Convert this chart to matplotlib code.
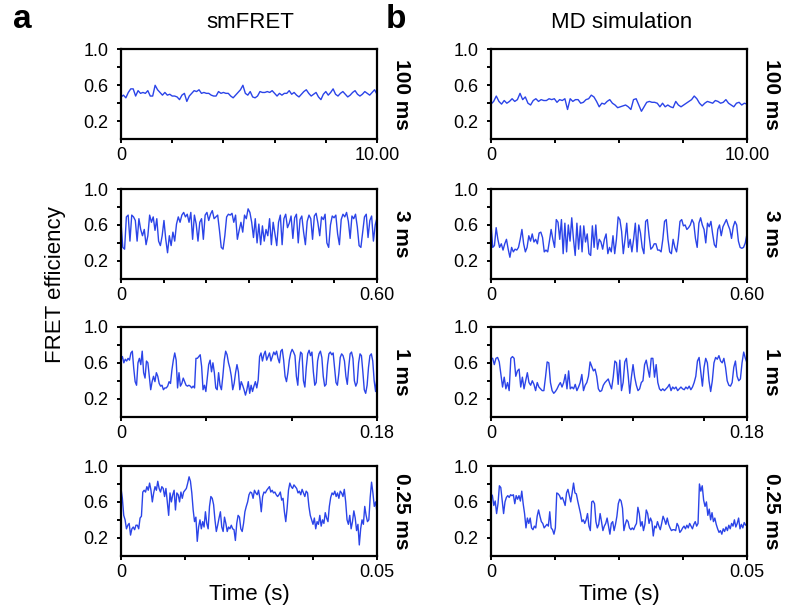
import numpy as np
import matplotlib.pyplot as plt

plt.rcParams['font.family'] = ['Liberation Sans', 'DejaVu Sans']

# 各行的时间分辨率标签和横轴终点
row_labels = ["100 ms", "3 ms", "1 ms", "0.25 ms"]
x_max = [10.0, 0.60, 0.18, 0.05]
x_end_labels = ["10.00", "0.60", "0.18", "0.05"]
x_step_left = [2.0, 0.1, 0.06, 0.0125]
x_step_right = [2.5, 0.15, 0.05, 0.0125]

# smFRET traces (column a)
fret_100ms = [0.47, 0.49, 0.46, 0.52, 0.56, 0.56, 0.48, 0.54, 0.51, 0.52, 0.51, 0.54, 0.48, 0.48, 0.60,
              0.55, 0.52, 0.49, 0.52, 0.49, 0.50, 0.48, 0.48, 0.47, 0.44, 0.49, 0.51, 0.42, 0.48, 0.51,
              0.54, 0.53, 0.55, 0.51, 0.52, 0.51, 0.51, 0.49, 0.48, 0.48, 0.53, 0.51, 0.52, 0.51, 0.51,
              0.48, 0.46, 0.49, 0.52, 0.55, 0.60, 0.51, 0.49, 0.53, 0.47, 0.46, 0.48, 0.53, 0.52, 0.52,
              0.53, 0.52, 0.54, 0.51, 0.48, 0.51, 0.49, 0.51, 0.51, 0.54, 0.50, 0.52, 0.49, 0.47, 0.50,
              0.53, 0.55, 0.51, 0.48, 0.50, 0.52, 0.47, 0.44, 0.50, 0.53, 0.49, 0.52, 0.56, 0.50, 0.48,
              0.51, 0.53, 0.50, 0.47, 0.49, 0.52, 0.54, 0.50, 0.48, 0.50, 0.53, 0.51, 0.49, 0.52, 0.55,
              0.50]
fret_3ms = [0.63, 0.35, 0.33, 0.69, 0.71, 0.42, 0.71, 0.69, 0.65, 0.42, 0.67, 0.55, 0.48, 0.55, 0.38,
            0.48, 0.71, 0.63, 0.69, 0.54, 0.67, 0.42, 0.37, 0.48, 0.65, 0.44, 0.29, 0.48, 0.37, 0.52,
            0.42, 0.61, 0.69, 0.63, 0.71, 0.74, 0.69, 0.72, 0.63, 0.74, 0.44, 0.71, 0.61, 0.42, 0.63,
            0.67, 0.44, 0.71, 0.74, 0.65, 0.72, 0.76, 0.67, 0.69, 0.71, 0.54, 0.35, 0.33, 0.48, 0.69,
            0.72, 0.71, 0.73, 0.63, 0.71, 0.44, 0.54, 0.63, 0.52, 0.71, 0.67, 0.78, 0.74, 0.63, 0.46,
            0.67, 0.40, 0.61, 0.38, 0.59, 0.42, 0.55, 0.48, 0.67, 0.38, 0.63, 0.50, 0.37, 0.63, 0.71,
            0.38, 0.67, 0.72, 0.57, 0.62, 0.70, 0.45, 0.68, 0.72, 0.40, 0.66, 0.70, 0.52, 0.38, 0.64,
            0.71, 0.67, 0.44, 0.70, 0.73, 0.62, 0.48, 0.69, 0.66, 0.72, 0.40, 0.35, 0.60, 0.70, 0.68,
            0.71, 0.50, 0.38, 0.66, 0.72, 0.69, 0.74, 0.64, 0.45, 0.70, 0.67, 0.72, 0.58, 0.37, 0.35,
            0.52, 0.69, 0.72, 0.46, 0.65, 0.70, 0.42, 0.60, 0.68]
fret_1ms = [0.63, 0.67, 0.60, 0.64, 0.62, 0.65, 0.63, 0.71, 0.73, 0.54, 0.39, 0.35, 0.60, 0.65, 0.58,
            0.73, 0.49, 0.43, 0.62, 0.60, 0.45, 0.30, 0.39, 0.45, 0.39, 0.49, 0.45, 0.37, 0.34, 0.35,
            0.30, 0.32, 0.32, 0.34, 0.39, 0.37, 0.52, 0.63, 0.71, 0.63, 0.32, 0.49, 0.34, 0.37, 0.43,
            0.39, 0.35, 0.34, 0.35, 0.34, 0.32, 0.34, 0.32, 0.65, 0.65, 0.67, 0.69, 0.56, 0.30, 0.35,
            0.28, 0.43, 0.58, 0.63, 0.50, 0.60, 0.49, 0.32, 0.30, 0.49, 0.35, 0.30, 0.45, 0.63, 0.73,
            0.69, 0.60, 0.54, 0.45, 0.30, 0.37, 0.49, 0.58, 0.50, 0.30, 0.39, 0.35, 0.30, 0.24, 0.30,
            0.39, 0.26, 0.35, 0.28, 0.34, 0.39, 0.32, 0.41, 0.67, 0.71, 0.62, 0.69, 0.73, 0.63, 0.67,
            0.71, 0.62, 0.67, 0.72, 0.69, 0.73, 0.65, 0.60, 0.73, 0.75, 0.63, 0.45, 0.39, 0.49, 0.63,
            0.71, 0.75, 0.72, 0.68, 0.45, 0.35, 0.60, 0.72, 0.70, 0.40, 0.33, 0.55, 0.70, 0.74, 0.68,
            0.72, 0.50, 0.35, 0.38, 0.62, 0.70, 0.73, 0.66, 0.45, 0.34, 0.36, 0.58, 0.70, 0.72, 0.69,
            0.71, 0.55, 0.38, 0.35, 0.48, 0.66, 0.70, 0.68, 0.62, 0.45, 0.36, 0.55, 0.70, 0.72, 0.65,
            0.40, 0.34, 0.38, 0.60, 0.70, 0.68, 0.50, 0.30, 0.26, 0.35, 0.55, 0.68, 0.70, 0.62, 0.40,
            0.28, 0.45]
fret_025ms = [0.75, 0.64, 0.45, 0.40, 0.30, 0.34, 0.36, 0.23, 0.30, 0.32, 0.29, 0.34, 0.34, 0.30, 0.42,
              0.44, 0.71, 0.73, 0.71, 0.77, 0.73, 0.81, 0.73, 0.60, 0.70, 0.77, 0.73, 0.83, 0.75, 0.71,
              0.77, 0.75, 0.66, 0.75, 0.60, 0.45, 0.70, 0.60, 0.68, 0.73, 0.51, 0.70, 0.68, 0.60, 0.71,
              0.64, 0.71, 0.73, 0.75, 0.81, 0.88, 0.83, 0.70, 0.51, 0.38, 0.43, 0.16, 0.32, 0.40, 0.30,
              0.38, 0.32, 0.49, 0.36, 0.30, 0.55, 0.66, 0.64, 0.57, 0.40, 0.27, 0.34, 0.42, 0.49, 0.32,
              0.27, 0.43, 0.36, 0.27, 0.32, 0.30, 0.34, 0.30, 0.29, 0.17, 0.36, 0.45, 0.43, 0.30, 0.27,
              0.36, 0.49, 0.55, 0.60, 0.68, 0.71, 0.70, 0.64, 0.73, 0.70, 0.68, 0.73, 0.64, 0.49, 0.66,
              0.71, 0.70, 0.73, 0.75, 0.77, 0.71, 0.73, 0.70, 0.71, 0.68, 0.66, 0.68, 0.71, 0.62, 0.64,
              0.49, 0.38, 0.53, 0.73, 0.81, 0.77, 0.75, 0.79, 0.77, 0.75, 0.70, 0.72, 0.68, 0.74, 0.70,
              0.66, 0.72, 0.70, 0.55, 0.45, 0.40, 0.35, 0.42, 0.30, 0.38, 0.35, 0.45, 0.33, 0.40, 0.36,
              0.48, 0.42, 0.38, 0.55, 0.65, 0.70, 0.68, 0.72, 0.66, 0.70, 0.64, 0.72, 0.70, 0.66, 0.74,
              0.60, 0.40, 0.35, 0.45, 0.30, 0.38, 0.50, 0.42, 0.28, 0.35, 0.12, 0.30, 0.40, 0.35, 0.55,
              0.45, 0.38, 0.40, 0.65, 0.82, 0.70, 0.55, 0.60, 0.48]

# MD simulation traces (column b)
md_100ms = [0.39, 0.42, 0.48, 0.42, 0.39, 0.43, 0.40, 0.42, 0.45, 0.42, 0.44, 0.51, 0.44, 0.47, 0.40,
            0.38, 0.43, 0.45, 0.42, 0.44, 0.43, 0.43, 0.45, 0.44, 0.45, 0.41, 0.44, 0.43, 0.45, 0.33,
            0.45, 0.42, 0.44, 0.44, 0.40, 0.41, 0.44, 0.45, 0.49, 0.47, 0.42, 0.36, 0.40, 0.39, 0.42,
            0.44, 0.40, 0.38, 0.35, 0.36, 0.37, 0.38, 0.36, 0.33, 0.44, 0.45, 0.38, 0.31, 0.36, 0.41,
            0.42, 0.41, 0.41, 0.40, 0.36, 0.40, 0.36, 0.38, 0.36, 0.35, 0.42, 0.38, 0.36, 0.38, 0.40,
            0.42, 0.44, 0.48, 0.45, 0.40, 0.37, 0.40, 0.42, 0.41, 0.40, 0.43, 0.42, 0.40, 0.41, 0.44,
            0.40, 0.38, 0.36, 0.40, 0.41, 0.38, 0.40, 0.39]
md_3ms = [0.62, 0.35, 0.37, 0.57, 0.44, 0.35, 0.39, 0.32, 0.39, 0.44, 0.33, 0.24, 0.35, 0.30, 0.33,
          0.32, 0.35, 0.44, 0.55, 0.39, 0.30, 0.35, 0.48, 0.42, 0.50, 0.41, 0.44, 0.39, 0.51, 0.52,
          0.46, 0.30, 0.32, 0.30, 0.42, 0.55, 0.44, 0.35, 0.66, 0.63, 0.44, 0.66, 0.28, 0.62, 0.30,
          0.60, 0.42, 0.68, 0.44, 0.26, 0.62, 0.33, 0.59, 0.30, 0.59, 0.41, 0.50, 0.28, 0.26, 0.59,
          0.35, 0.60, 0.33, 0.44, 0.41, 0.33, 0.44, 0.50, 0.28, 0.35, 0.30, 0.48, 0.28, 0.44, 0.69,
          0.66, 0.53, 0.28, 0.44, 0.62, 0.35, 0.44, 0.30, 0.44, 0.62, 0.30, 0.60, 0.51, 0.35, 0.28,
          0.64, 0.66, 0.48, 0.33, 0.35, 0.39, 0.39, 0.32, 0.32, 0.30, 0.44, 0.64, 0.66, 0.44, 0.30,
          0.28, 0.44, 0.35, 0.30, 0.44, 0.64, 0.66, 0.59, 0.60, 0.55, 0.57, 0.60, 0.66, 0.62, 0.45,
          0.35, 0.62, 0.68, 0.60, 0.55, 0.40, 0.62, 0.58, 0.64, 0.50, 0.38, 0.35, 0.55, 0.60, 0.48,
          0.58, 0.62, 0.66, 0.60, 0.55, 0.45, 0.58, 0.64, 0.60, 0.42, 0.35, 0.34, 0.35, 0.40, 0.50]
md_1ms = [0.65, 0.65, 0.58, 0.65, 0.66, 0.61, 0.47, 0.33, 0.44, 0.31, 0.38, 0.29, 0.65, 0.67, 0.65,
          0.45, 0.51, 0.53, 0.33, 0.44, 0.31, 0.40, 0.49, 0.38, 0.35, 0.40, 0.36, 0.29, 0.38, 0.33,
          0.31, 0.29, 0.29, 0.44, 0.61, 0.60, 0.38, 0.29, 0.26, 0.28, 0.31, 0.35, 0.38, 0.33, 0.38,
          0.47, 0.31, 0.51, 0.31, 0.33, 0.31, 0.36, 0.29, 0.33, 0.38, 0.47, 0.29, 0.35, 0.38, 0.45,
          0.61, 0.56, 0.51, 0.53, 0.45, 0.31, 0.28, 0.29, 0.35, 0.38, 0.40, 0.42, 0.36, 0.31, 0.44,
          0.62, 0.60, 0.36, 0.63, 0.29, 0.38, 0.61, 0.65, 0.47, 0.26, 0.44, 0.58, 0.44, 0.35, 0.29,
          0.31, 0.38, 0.40, 0.58, 0.63, 0.53, 0.44, 0.65, 0.65, 0.44, 0.58, 0.38, 0.31, 0.29, 0.31,
          0.29, 0.31, 0.33, 0.36, 0.29, 0.33, 0.31, 0.33, 0.29, 0.31, 0.33, 0.31, 0.30, 0.33, 0.31,
          0.34, 0.30, 0.33, 0.38, 0.45, 0.62, 0.66, 0.50, 0.34, 0.55, 0.65, 0.60, 0.40, 0.28, 0.40,
          0.60, 0.66, 0.64, 0.68, 0.62, 0.60, 0.65, 0.55, 0.40, 0.35, 0.34, 0.38, 0.55, 0.62, 0.45,
          0.40, 0.42, 0.60, 0.72, 0.65, 0.60]
md_025ms = [0.69, 0.67, 0.56, 0.61, 0.47, 0.58, 0.78, 0.76, 0.61, 0.47, 0.60, 0.65, 0.67, 0.65, 0.68,
            0.67, 0.68, 0.58, 0.67, 0.63, 0.67, 0.61, 0.72, 0.58, 0.47, 0.31, 0.42, 0.36, 0.42, 0.31,
            0.29, 0.33, 0.31, 0.44, 0.51, 0.44, 0.38, 0.36, 0.31, 0.33, 0.35, 0.33, 0.49, 0.31, 0.29,
            0.24, 0.31, 0.70, 0.69, 0.67, 0.63, 0.65, 0.61, 0.56, 0.70, 0.74, 0.67, 0.60, 0.70, 0.81,
            0.70, 0.69, 0.61, 0.54, 0.47, 0.38, 0.40, 0.36, 0.40, 0.47, 0.33, 0.28, 0.60, 0.61, 0.58,
            0.38, 0.31, 0.35, 0.47, 0.38, 0.28, 0.33, 0.36, 0.42, 0.33, 0.24, 0.36, 0.38, 0.28, 0.35,
            0.44, 0.58, 0.63, 0.61, 0.53, 0.28, 0.35, 0.40, 0.38, 0.31, 0.29, 0.31, 0.29, 0.33, 0.36,
            0.54, 0.47, 0.33, 0.38, 0.28, 0.35, 0.51, 0.47, 0.36, 0.42, 0.38, 0.22, 0.33, 0.31, 0.38,
            0.33, 0.29, 0.36, 0.44, 0.40, 0.35, 0.42, 0.35, 0.31, 0.28, 0.29, 0.29, 0.28, 0.36, 0.33,
            0.26, 0.28, 0.31, 0.33, 0.30, 0.34, 0.31, 0.36, 0.33, 0.30, 0.35, 0.38, 0.33, 0.36, 0.80,
            0.72, 0.78, 0.62, 0.55, 0.60, 0.45, 0.52, 0.40, 0.48, 0.38, 0.42, 0.35, 0.30, 0.26, 0.28,
            0.24, 0.30, 0.27, 0.32, 0.28, 0.34, 0.30, 0.36, 0.33, 0.40, 0.32, 0.36, 0.42, 0.30, 0.35,
            0.31, 0.37, 0.34, 0.36]

left_traces = [fret_100ms, fret_3ms, fret_1ms, fret_025ms]
right_traces = [md_100ms, md_3ms, md_1ms, md_025ms]

line_color = "#2b44e8"

fig = plt.figure(figsize=(8, 6.1), dpi=100)

col_x = [121 / 800, 491 / 800]
col_w = 256 / 800
row_bottom = [0.772, 0.543, 0.317, 0.089]
row_h = 0.147


def draw_panel(ax, y, xmax, step, end_label, row_label):
    x = np.linspace(0, xmax, len(y))
    ax.plot(x, y, color=line_color, lw=1.0)
    ax.set_xlim(0, xmax)
    ax.set_ylim(0, 1.0)
    # 横轴刻度：只标首尾
    ticks = list(np.arange(0, xmax + 1e-9, step))
    if abs(ticks[-1] - xmax) > 1e-9:
        ticks.append(xmax)
    ax.set_xticks(ticks)
    ax.set_xticklabels(["0"] + [""] * (len(ticks) - 2) + [end_label])
    ax.set_yticks([0.2, 0.6, 1.0])
    ax.set_yticks([0.4, 0.8], minor=True)
    ax.set_yticklabels(["0.2", "0.6", "1.0"])
    for s in ax.spines.values():
        s.set_linewidth(1.6)
    ax.tick_params(axis="both", which="both", direction="out", length=3, width=1.4,
                   labelsize=13, pad=3)
    ax.tick_params(axis="y", pad=6)
    ax.text(1.095, 0.5, row_label, transform=ax.transAxes, rotation=-90,
            ha="center", va="center", fontsize=15, fontweight="bold")


axes = []
for c in range(2):
    traces = left_traces if c == 0 else right_traces
    steps = x_step_left if c == 0 else x_step_right
    for r in range(4):
        ax = fig.add_axes([col_x[c], row_bottom[r], col_w, row_h])
        draw_panel(ax, traces[r], x_max[r], steps[r], x_end_labels[r], row_labels[r])
        ax.set_xlabel("")
        if r == 3:
            ax.set_xlabel("Time (s)", fontsize=16, labelpad=2)
        axes.append(ax)

fig.text(250 / 800, 1 - 22 / 610, "smFRET", ha="center", va="center", fontsize=16)
fig.text(622 / 800, 1 - 22 / 610, "MD simulation", ha="center", va="center", fontsize=16)
fig.text(22 / 800, 1 - 20 / 610, "a", ha="center", va="center", fontsize=24, fontweight="bold")
fig.text(396 / 800, 1 - 20 / 610, "b", ha="center", va="center", fontsize=24, fontweight="bold")
fig.text(55 / 800, 1 - 285 / 610, "FRET efficiency", ha="center", va="center",
         rotation=90, fontsize=16)

plt.savefig("out.png", dpi=100)
